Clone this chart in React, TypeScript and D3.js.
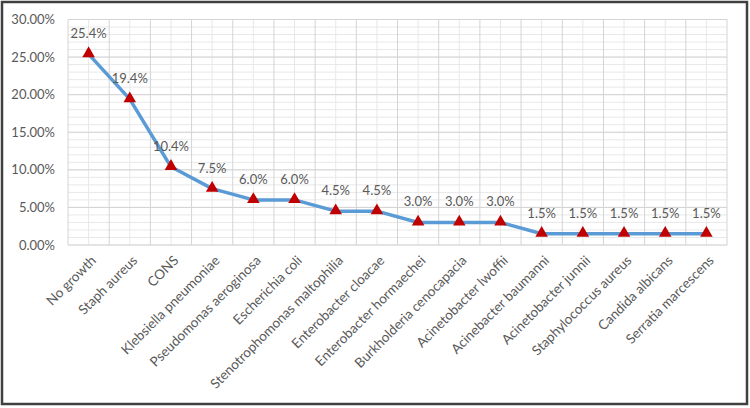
import React from "react";
import * as d3 from "d3";

const categories = [
  "No growth",
  "Staph aureus",
  "CONS",
  "Klebsiella pneumoniae",
  "Pseudomonas aeroginosa",
  "Escherichia coli",
  "Stenotrophomonas maltophilia",
  "Enterobacter cloacae",
  "Enterobacter hormaechei",
  "Burkholderia cenocapacia",
  "Acinetobacter lwoffii",
  "Acinebacter baumanni",
  "Acinetobacter junnii",
  "Staphylococcus aureus",
  "Candida albicans",
  "Serratia marcescens",
];

const percentages = [25.4, 19.4, 10.4, 7.5, 6.0, 6.0, 4.5, 4.5, 3.0, 3.0, 3.0, 1.5, 1.5, 1.5, 1.5, 1.5];

const yTicks = [0, 5, 10, 15, 20, 25, 30];

const W = 750;
const H = 408;
const plot = { left: 68, right: 727, top: 19.5, bottom: 245 };
const FONT = "Lato, 'Open Sans', sans-serif";

export default function App() {
  const x = d3
    .scaleBand<string>()
    .domain(categories)
    .range([plot.left, plot.right])
    .padding(0);
  const y = d3.scaleLinear().domain([0, 30]).range([plot.bottom, plot.top]);

  const cx = (c: string) => (x(c) ?? 0) + x.bandwidth() / 2;

  const line = d3
    .line<number>()
    .x((_, i) => cx(categories[i]))
    .y((v) => y(v));

  const minorY = d3.range(0, 31, 1);
  const boundaries = categories.map((c) => x(c) ?? 0).concat([plot.right]);
  const centers = categories.map(cx);

  const tri = d3.symbol().type(d3.symbolTriangle).size(68)();

  return (
    <svg
      width={W}
      height={H}
      style={{ position: "absolute", left: 0, top: 0, background: "#fff" }}
      fontFamily={FONT}
    >
      <rect x={0} y={0} width={W} height={H} fill="#fff" />
      {/* minor gridlines: every 1% and at each category centre */}
      <g stroke="#e8e8e8" strokeWidth={1}>
        {minorY.map((v) => (
          <line key={"mh" + v} x1={plot.left} x2={plot.right} y1={y(v)} y2={y(v)} />
        ))}
        {centers.map((c, i) => (
          <line key={"mv" + i} x1={c} x2={c} y1={plot.top} y2={plot.bottom} />
        ))}
      </g>
      {/* major gridlines: every 5% and at category boundaries */}
      <g stroke="#d4d4d4" strokeWidth={1}>
        {yTicks.map((v) => (
          <line key={"h" + v} x1={plot.left} x2={plot.right} y1={y(v)} y2={y(v)} />
        ))}
        {boundaries.map((b, i) => (
          <line key={"v" + i} x1={b} x2={b} y1={plot.top} y2={plot.bottom} />
        ))}
      </g>
      {/* y-axis labels */}
      <g fill="#595959" fontSize={13} textAnchor="end">
        {yTicks.map((v) => (
          <text key={"yt" + v} x={55} y={y(v)} dy="0.35em">
            {v.toFixed(2) + "%"}
          </text>
        ))}
      </g>
      {/* rotated category labels */}
      <g fill="#595959" fontSize={13.5} textAnchor="end">
        {categories.map((c) => (
          <text
            key={"xl" + c}
            transform={`translate(${cx(c) + 5},${plot.bottom + 13}) rotate(-45)`}
            dy="0.35em"
          >
            {c}
          </text>
        ))}
      </g>
      {/* series line */}
      <path
        d={line(percentages) ?? ""}
        fill="none"
        stroke="#5B9BD5"
        strokeWidth={3.5}
        strokeLinejoin="round"
        strokeLinecap="round"
      />
      {/* triangle markers */}
      {percentages.map((v, i) => (
        <path
          key={"m" + i}
          d={tri ?? ""}
          transform={`translate(${cx(categories[i])},${y(v) - 0.5})`}
          fill="#C00000"
        />
      ))}
      {/* value labels */}
      <g fill="#595959" fontSize={13} textAnchor="middle">
        {percentages.map((v, i) => (
          <text key={"dl" + i} x={cx(categories[i])} y={y(v) - 16}>
            {v.toFixed(1) + "%"}
          </text>
        ))}
      </g>
      {/* outer frame */}
      <rect x={2} y={2} width={W - 5} height={H - 6} fill="none" stroke="#404040" strokeWidth={2.5} />
    </svg>
  );
}
